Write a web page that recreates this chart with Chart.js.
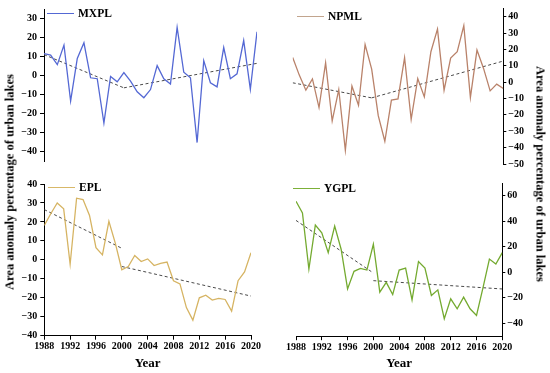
<!DOCTYPE html>
<html>
<head>
<meta charset="utf-8">
<script src="https://cdn.jsdelivr.net/npm/chart.js@4.4.1/dist/chart.umd.min.js"></script>
<style>
  body { margin: 0; background: #fff; }
  #wrap { position: relative; width: 550px; height: 373px; overflow: hidden; }
  .box { position: absolute; }
  .lg { position: absolute; font: bold 11.5px "Liberation Serif", serif; display: flex; align-items: center; color: #000; }
  .lg span { display: inline-block; width: 27px; height: 0; border-top: 1.5px solid; margin-right: 4px; }
  .ttl { position: absolute; font: bold 12.5px "Liberation Serif", serif; white-space: nowrap; color: #000; }
</style>
</head>
<body>
<div id="wrap">
  <div class="box" style="left:0;top:0;width:262px;height:170px"><canvas id="c1"></canvas></div>
  <div class="box" style="left:285px;top:0;width:265px;height:172px"><canvas id="c2"></canvas></div>
  <div class="box" style="left:0;top:175px;width:262px;height:198px"><canvas id="c3"></canvas></div>
  <div class="box" style="left:285px;top:175px;width:265px;height:198px"><canvas id="c4"></canvas></div>

  <div class="lg" style="left:47px;top:7px"><span style="border-color:#5468d4"></span>MXPL</div>
  <div class="lg" style="left:297px;top:10px"><span style="border-color:#c2a58e"></span>NPML</div>
  <div class="lg" style="left:48px;top:181px"><span style="border-color:#d8b868"></span>EPL</div>
  <div class="lg" style="left:293px;top:182px"><span style="border-color:#7cb038"></span>YGPL</div>

  <div class="ttl" style="left:10px;top:182px;transform:translate(-50%,-50%) rotate(-90deg)">Area anomaly percentage of urban lakes</div>
  <div class="ttl" style="left:540px;top:174px;transform:translate(-50%,-50%) rotate(90deg)">Area anomaly percentage of urban lakes</div>
</div>
<script>
// donnees
const years = [1988, 1989, 1990, 1991, 1992, 1993, 1994, 1995, 1996, 1997, 1998,
  1999, 2000, 2001, 2002, 2003, 2004, 2005, 2006, 2007, 2008, 2009, 2010,
  2011, 2012, 2013, 2014, 2015, 2016, 2017, 2018, 2019, 2020];
const xTicks = [1988, 1992, 1996, 2000, 2004, 2008, 2012, 2016, 2020];

const mxplTicks = [-40, -30, -20, -10, 0, 10, 20, 30];
const npmlTicks = [-50, -40, -30, -20, -10, 0, 10, 20, 30, 40];
const eplTicks = [-40, -30, -20, -10, 0, 10, 20, 30, 40];
const ygplTicks = [-40, -20, 0, 20, 40, 60];

const mxpl = [11.5, 10.7, 5.7, 16, -13.4, 9, 17.2, -1.2, -1.7, -25, -0.5, -3.3, 1.5,
  -3, -8.6, -11.7, -7.4, 5.2, -1.7, -4.5, 25.3, 1.7, -1.2, -35.3, 7.8, -3.8, -6,
  14.7, -1.7, 0.9, 18.4, -7.3, 23];
const npml = [15.1, 4.3, -4.9, 2, -15.5, 11.8, -23.7, -4.5, -41.6, -2.4, -14.1, 23, 8,
  -20.5, -36.1, -11, -10.2, 14.9, -22.7, 2.2, -9, 18.6, 32.4, -4.9, 14.7, 18.6, 34.5,
  -9.4, 19.6, 8.4, -5.3, -1.2, -3.9];
const epl = [18.2, 24.3, 30, 26.9, -2.3, 32.5, 31.8, 23.4, 6.4, 2.6, 20.3, 8.7, -5.2,
  -3.5, 2.3, -0.9, 0.5, -3, -1.9, -1.2, -11, -12.7, -25.2, -31.8, -20, -18.6, -21.2,
  -20.3, -20.9, -27, -11, -6.4, 3.8];
const ygpl = [55.7, 46.6, 2.6, 37, 31, 15.5, 36.3, 18.1, -13, 0.8, 3.1, 1.8, 22, -15.5,
  -7.8, -17.4, 1.8, 3.4, -21.5, 8.5, 3.4, -18.1, -13.7, -36.3, -20.7, -28.5, -19.4,
  -28.5, -33.7, -12.2, 10.4, 6.5, 15.5];

// tendances (deux segments)
const trendYearsA = [1988, 2000];
const trendYearsB = [2000, 2020];
const mxplTrendA = [11, -6.5];
const mxplTrendB = [-6.5, 6.4];
const npmlTrendA = [-0.4, -9.6];
const npmlTrendB = [-9.6, 12.9];
const eplTrendA = [26.5, 6.1];
const eplTrendB = [-3.5, -19.1];
const ygplTrendA = [40.7, -0.5];
const ygplTrendB = [-6.5, -13];

const tickFont = { family: "Liberation Serif", weight: "bold", size: 10 };

function pts(xs, ys) {
  return xs.map((x, i) => ({ x: x, y: ys[i] }));
}

function trendSet(xs, ys) {
  return {
    data: pts(xs, ys),
    borderColor: "#4a4a4a",
    borderWidth: 1,
    borderDash: [3, 2.5],
    pointRadius: 0,
    fill: false,
  };
}

function drawPanel(id, o) {
  new Chart(document.getElementById(id), {
    type: "line",
    data: {
      datasets: [
        {
          data: pts(years, o.values),
          borderColor: o.color,
          borderWidth: 1.3,
          pointRadius: 0,
          tension: 0,
          fill: false,
        },
        trendSet(trendYearsA, o.trendA),
        trendSet(trendYearsB, o.trendB),
      ],
    },
    options: {
      responsive: true,
      maintainAspectRatio: false,
      animation: false,
      layout: { padding: o.padding },
      plugins: { legend: { display: false }, tooltip: { enabled: false } },
      scales: {
        x: {
          type: "linear",
          display: o.showX,
          min: 1988,
          max: 2020,
          afterBuildTicks: (s) => { s.ticks = xTicks.map((v) => ({ value: v })); },
          afterFit: (s) => { s.height = o.xHeight || s.height; },
          grid: { display: true, drawOnChartArea: false, tickLength: 4, color: "#000" },
          border: { display: true, color: "#000", width: 1 },
          ticks: {
            color: "#000",
            font: tickFont,
            padding: 1,
            maxRotation: 0,
            callback: (v) => String(v),
          },
          title: {
            display: o.showX,
            text: "Year",
            color: "#000",
            font: { family: "Liberation Serif", weight: "bold", size: 13 },
            padding: { top: 0, bottom: 2 },
          },
        },
        y: {
          position: o.side,
          min: o.yMin,
          max: o.yMax,
          afterBuildTicks: (s) => { s.ticks = o.yTicks.map((v) => ({ value: v })); },
          afterFit: (s) => { s.width = o.yWidth; },
          grid: { display: true, drawOnChartArea: false, tickLength: o.side === "left" ? 4 : 3, color: "#000" },
          border: { display: true, color: "#000", width: 1 },
          ticks: {
            color: "#000",
            font: tickFont,
            padding: o.side === "left" ? 3 : 2,
            callback: (v) => String(v).replace("-", "\u2212"),
          },
        },
      },
    },
  });
}

drawPanel("c1", {
  values: mxpl, trendA: mxplTrendA, trendB: mxplTrendB, color: "#5468d4", yTicks: mxplTicks,
  yMin: -45, yMax: 35, side: "left", yWidth: 44, showX: false,
  padding: { left: 0, top: 7, right: 5, bottom: 8 },
});
drawPanel("c2", {
  values: npml, trendA: npmlTrendA, trendB: npmlTrendB, color: "#b9826a", yTicks: npmlTicks,
  yMin: -50, yMax: 45, side: "right", yWidth: 46.7, showX: false,
  padding: { left: 7.7, top: 8.5, right: 0, bottom: 7.7 },
});
drawPanel("c3", {
  values: epl, trendA: eplTrendA, trendB: eplTrendB, color: "#d6b463", yTicks: eplTicks,
  yMin: -40, yMax: 40, side: "left", yWidth: 44.3, showX: true, xHeight: 37.3,
  padding: { left: 0, top: 6.5, right: 7, bottom: 0 },
});
drawPanel("c4", {
  values: ygpl, trendA: ygplTrendA, trendB: ygplTrendB, color: "#74aa30", yTicks: ygplTicks,
  yMin: -50, yMax: 70, side: "right", yWidth: 47.7, showX: true, xHeight: 36.8,
  padding: { left: 7.7, top: 6.8, right: 0, bottom: 0 },
});
</script>
</body>
</html>
